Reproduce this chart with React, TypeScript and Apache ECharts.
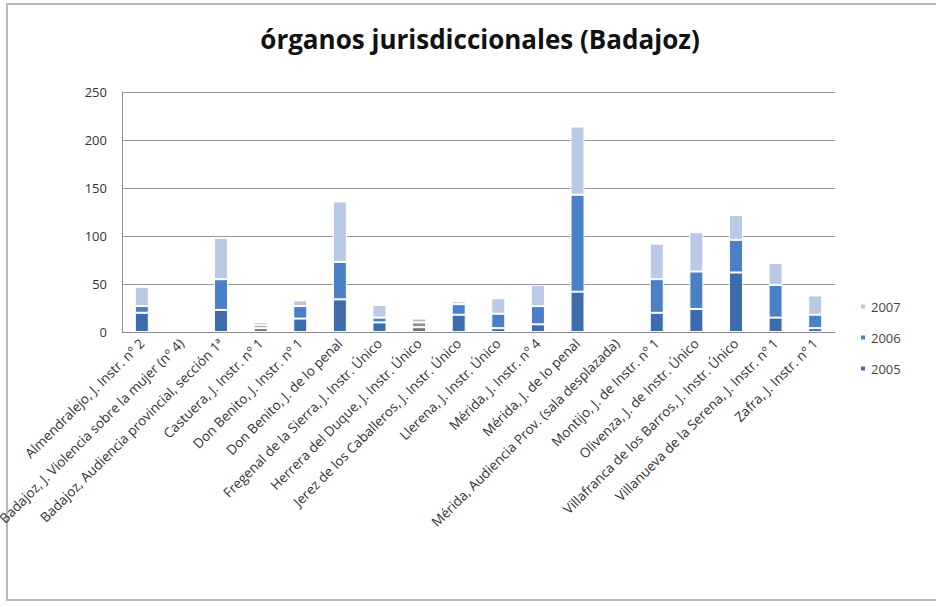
import React, { useEffect, useRef } from "react";
import * as echarts from "echarts";

const categories = [
  "Almendralejo, J. Instr. nº 2",
  "Badajoz, J. Violencia sobre la mujer (nº 4)",
  "Badajoz, Audiencia provincial, sección 1ª",
  "Castuera, J. Instr. nº 1",
  "Don Benito, J. Instr. nº 1",
  "Don Benito, J. de lo penal",
  "Fregenal de la Sierra, J. Instr. Único",
  "Herrera del Duque, J. Instr. Único",
  "Jerez de los Caballeros, J. Instr. Único",
  "Llerena, J. Instr. Único",
  "Mérida, J. Instr. nº 4",
  "Mérida, J. de lo penal",
  "Mérida, Audiencia Prov. (sala desplazada)",
  "Montijo, J. de Instr. nº 1",
  "Olivenza, J. de Instr. Único",
  "Villafranca de los Barros, J. Instr. Único",
  "Villanueva de la Serena, J. Instr. nº 1",
  "Zafra, J. Instr. nº 1",
];

const values2005 = [20, null, 23, 4, 14, 34, 10, 5, 18, 4, 8, 42, null, 20, 24, 62, 15, 4];
const values2006 = [7, null, 32, 3, 13, 39, 5, 5, 11, 15, 19, 101, null, 35, 39, 34, 34, 14];
const values2007 = [20, null, 43, 3, 6, 63, 13, 4, 3, 16, 22, 71, null, 37, 41, 26, 23, 20];

const seriesNames = ["2005", "2006", "2007"];
const yTicks = [0, 50, 100, 150, 200, 250];

// categories drawn in grey in the reference
const greyCategories = [3, 7];

const colors = ["#3d6cad", "#4a80c6", "#b9c9e6"];
const greys = ["#6f747c", "#8a8f96", "#b5b8bd"];

export default function App() {
  const ref = useRef<HTMLDivElement>(null);
  useEffect(() => {
    const chart = echarts.init(ref.current!, undefined, { renderer: "svg" });
    const allValues = [values2005, values2006, values2007];
    const font = "'Open Sans', 'Noto Sans', sans-serif";
    chart.setOption({
      animation: false,
      backgroundColor: "#ffffff",
      title: {
        text: "órganos jurisdiccionales (Badajoz)",
        left: 475,
        textAlign: "center",
        top: 21,
        textStyle: { fontFamily: font, fontSize: 26, fontWeight: "bold", color: "#111" },
      },
      graphic: [
        {
          type: "rect",
          shape: { x: 7, y: 4, width: 960, height: 596 },
          style: { fill: "none", stroke: "#b8b8b8", lineWidth: 2 },
          silent: true,
        },
      ],
      legend: {
        data: ["2007", "2006", "2005"],
        orient: "vertical",
        left: 854,
        top: 295,
        itemWidth: 6,
        itemHeight: 6,
        itemGap: 18,
        icon: "rect",
        textStyle: { fontFamily: font, fontSize: 13, color: "#444" },
      },
      grid: {
        left: 122,
        right: 101,
        top: 92,
        bottom: 275,
        containLabel: false,
        outerBoundsMode: "none",
      },
      xAxis: {
        type: "category",
        data: categories,
        boundaryGap: true,
        axisLine: { lineStyle: { color: "#8c8c8c" } },
        axisTick: { alignWithLabel: false, length: 5, lineStyle: { color: "#8c8c8c" } },
        axisLabel: {
          interval: 0,
          rotate: 45,
          margin: 9,
          fontFamily: font,
          fontSize: 13.5,
          color: "#333",
        },
      },
      yAxis: {
        type: "value",
        min: yTicks[0],
        max: yTicks[yTicks.length - 1],
        interval: 50,
        axisLine: { show: true, lineStyle: { color: "#8c8c8c" } },
        axisTick: { show: false },
        splitLine: { lineStyle: { color: "#9a9a9a", width: 1 } },
        axisLabel: { fontFamily: font, fontSize: 13, color: "#333", margin: 15 },
      },
      series: seriesNames.map((name, si) => ({
        name,
        type: "bar",
        stack: "total",
        barWidth: 14,
        itemStyle: { color: colors[si], borderColor: "#ffffff", borderWidth: 1 },
        data: allValues[si].map((v, ci) =>
          greyCategories.includes(ci)
            ? { value: v, itemStyle: { color: greys[si] } }
            : v === null
            ? "-"
            : v
        ),
      })),
    });
    return () => chart.dispose();
  }, []);
  return (
    <div
      ref={ref}
      style={{ position: "fixed", left: 0, top: 0, width: 936, height: 607 }}
    />
  );
}
